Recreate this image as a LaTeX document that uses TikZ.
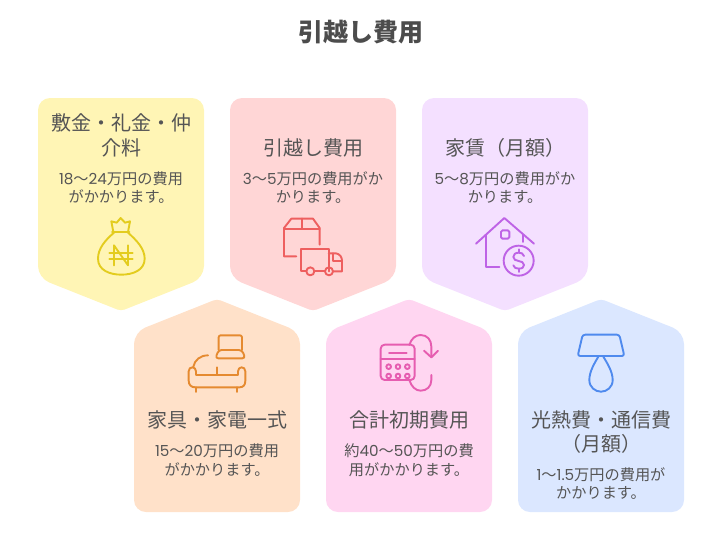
\documentclass[tikz,border=0pt]{standalone}
\usepackage{fontspec}
\setmainfont{Noto Sans CJK JP}
\newfontfamily\digitfont{Poppins}
\newcommand{\num}[1]{{\digitfont #1}}
\definecolor{cardyellow}{HTML}{FFF5B5}
\definecolor{cardred}{HTML}{FFD6D6}
\definecolor{cardpurple}{HTML}{F4E0FF}
\definecolor{cardorange}{HTML}{FFE1C9}
\definecolor{cardpink}{HTML}{FFD6F1}
\definecolor{cardblue}{HTML}{DBE7FF}
\definecolor{iconyellow}{HTML}{E3CC1E}
\definecolor{iconred}{HTML}{EE5F5F}
\definecolor{iconpurple}{HTML}{BE63E6}
\definecolor{iconorange}{HTML}{E58A30}
\definecolor{iconpink}{HTML}{E65DB0}
\definecolor{iconblue}{HTML}{4F8AEE}
\definecolor{textgray}{HTML}{555555}
\tikzset{
  heading/.style={inner sep=0pt, text=textgray, align=center, font=\fontsize{20}{24.5}\selectfont},
  detail/.style={inner sep=0pt, text=textgray, align=center, font=\fontsize{15.2}{18.6}\selectfont},
  icon/.style={line width=1.9pt, line cap=round, line join=round}
}
% Carta com a ponta para baixo
\newcommand{\cardDown}[2]{
  \fill[#2, rounded corners=12pt] (#1,98) -- (#1+166,98) -- (#1+166,278)
    [rounded corners=4pt] -- (#1+83,311) [rounded corners=12pt] -- (#1,278) -- cycle;
}
% Carta com a ponta para cima
\newcommand{\cardUp}[2]{
  \fill[#2, rounded corners=12pt] (#1,512) -- (#1+166,512) -- (#1+166,332)
    [rounded corners=4pt] -- (#1+83,299) [rounded corners=12pt] -- (#1,332) -- cycle;
}
\begin{document}
\begin{tikzpicture}[x=1pt, y=-1pt]
\useasboundingbox (0,0) rectangle (722,550);

% Titulo
\node (title) [inner sep=0pt, text=textgray!90!black, font=\fontsize{25}{29}\selectfont\bfseries] at (361,32) {引越し費用};

% Cartas de cima
\cardDown{38}{cardyellow}
\cardDown{230}{cardred}
\cardDown{422}{cardpurple}

% Cartas de baixo
\cardUp{134}{cardorange}
\cardUp{326}{cardpink}
\cardUp{518}{cardblue}

% Textos de cima
\node (h1) [heading] at (121,135.5) {敷金・礼金・仲\\介料};
\node (d1) [detail] at (121,187.5) {\num{18}〜\num{24}万円の費用\\がかかります。};
\node (h2) [heading] at (313,147.5) {引越し費用};
\node (d2) [detail] at (313,187.5) {\num{3}〜\num{5}万円の費用がか\\かります。};
\node (h3) [heading] at (505,147.5) {家賃（月額）};
\node (d3) [detail] at (505,187.5) {\num{5}〜\num{8}万円の費用がか\\かります。};

% Textos de baixo
\node (h4) [heading] at (217,420) {家具・家電一式};
\node (d4) [detail] at (217,460) {\num{15}〜\num{20}万円の費用\\がかかります。};
\node (h5) [heading] at (409,420) {合計初期費用};
\node (d5) [detail] at (409,460) {約\num{40}〜\num{50}万円の費\\用がかかります。};
\node (h6) [heading] at (601,432) {光熱費・通信費\\（月額）};
\node (d6) [detail] at (601,483.5) {\num{1}〜\num{1.5}万円の費用が\\かかります。};

% Saco de dinheiro
\begin{scope}[shift={(90,212)}, scale=1/3, icon, draw=iconyellow]
\draw (70,60) -- (64,28) -- (80,32) -- (92,18) -- (105,32) -- (120,28) -- (114,60);
\draw (66,61) -- (118,61);
\draw (72,62) .. controls (45,85) and (24,110) .. (24,140)
  .. controls (24,175) and (60,188) .. (94,188)
  .. controls (128,188) and (164,175) .. (164,140)
  .. controls (164,110) and (140,85) .. (114,62);
\draw (72,160) -- (72,100) -- (114,160) -- (114,100);
\draw (58,122) -- (128,122);
\draw (58,140) -- (128,140);
\end{scope}

% Caixa e caminhao
\begin{scope}[shift={(278,212)}, scale=1/3, icon, draw=iconred]
\draw (55,133) -- (18,133) -- (18,48) -- (40,20) -- (105,20) -- (125,48) -- (125,98);
\draw (18,50) -- (125,50);
\draw (72,20) -- (72,50);
\draw (85,178) -- (70,178) -- (70,112) -- (152,112) -- (152,178);
\draw (110,178) -- (140,178);
\draw (97,178) circle (12);
\draw (153,178) circle (12);
\draw (152,124) -- (174,124) .. controls (185,126) and (192,135) .. (192,146) -- (192,178) -- (166,178);
\draw (166,124) -- (166,146) -- (192,146);
\end{scope}

% Casa com moeda
\begin{scope}[shift={(470,212)}, scale=1/3, icon, draw=iconpurple]
\draw (18,95) -- (103,18) -- (192,95);
\draw (48,70) -- (48,165) -- (88,165);
\draw (160,68) -- (160,90);
\draw[rounded corners=1.5pt] (93,55) rectangle (118,80);
\draw (146,146) circle (45);
\draw (146,112) -- (146,122);
\draw (146,170) -- (146,180);
\draw (162,132) .. controls (160,124) and (153,122) .. (146,122)
  .. controls (136,122) and (130,127) .. (130,135)
  .. controls (130,152) and (162,142) .. (162,159)
  .. controls (162,166) and (156,170) .. (146,170)
  .. controls (138,170) and (132,167) .. (130,160);
\end{scope}

% Sofa e poltrona
\begin{scope}[shift={(182,330)}, scale=1/3, icon, draw=iconorange]
\draw[rounded corners=2pt] (110,60) -- (110,16) -- (180,16) -- (180,60);
\draw[rounded corners=3pt] (110,60) -- (180,60) -- (190,85) -- (100,85) -- cycle;
\draw (78,76) .. controls (55,76) and (38,90) .. (34,110);
\draw (42,135) -- (42,124) .. controls (42,108) and (20,108) .. (20,124) -- (20,152)
  .. controls (20,165) and (28,172) .. (40,172) -- (172,172)
  .. controls (184,172) and (190,165) .. (190,152) -- (190,124)
  .. controls (190,108) and (168,108) .. (168,124) -- (168,135) -- cycle;
\draw (104,112) -- (104,135);
\draw (42,172) -- (42,186);
\draw (165,172) -- (165,186);
\end{scope}

% Calculadora
\begin{scope}[shift={(374,330)}, scale=1/3, icon, draw=iconpink]
\draw[rounded corners=4pt] (20,44) rectangle (122,150);
\draw (20,88) -- (122,88);
\draw (45,68) -- (98,68);
\foreach \px in {44,72,100}{
  \foreach \py in {110,138}{
    \draw (\px,\py) circle (7);
  }
}
\draw (106,45) .. controls (112,25) and (125,15) .. (140,15)
  .. controls (160,15) and (172,30) .. (172,50) -- (172,80);
\draw (150,62) -- (172,82) -- (192,62);
\draw (172,135) -- (172,150) .. controls (172,170) and (158,182) .. (140,182)
  .. controls (125,182) and (112,170) .. (106,150);
\end{scope}

% Abajur
\begin{scope}[shift={(566,330)}, scale=1/3, icon, draw=iconblue]
\draw[rounded corners=2.5pt] (50,14) -- (160,14) -- (175,78) -- (35,78) -- cycle;
\draw (97,80) .. controls (85,100) and (70,125) .. (70,150)
  .. controls (70,172) and (88,185) .. (105,185)
  .. controls (122,185) and (140,172) .. (140,150)
  .. controls (140,125) and (124,100) .. (112,80);
\end{scope}

\end{tikzpicture}
\end{document}
